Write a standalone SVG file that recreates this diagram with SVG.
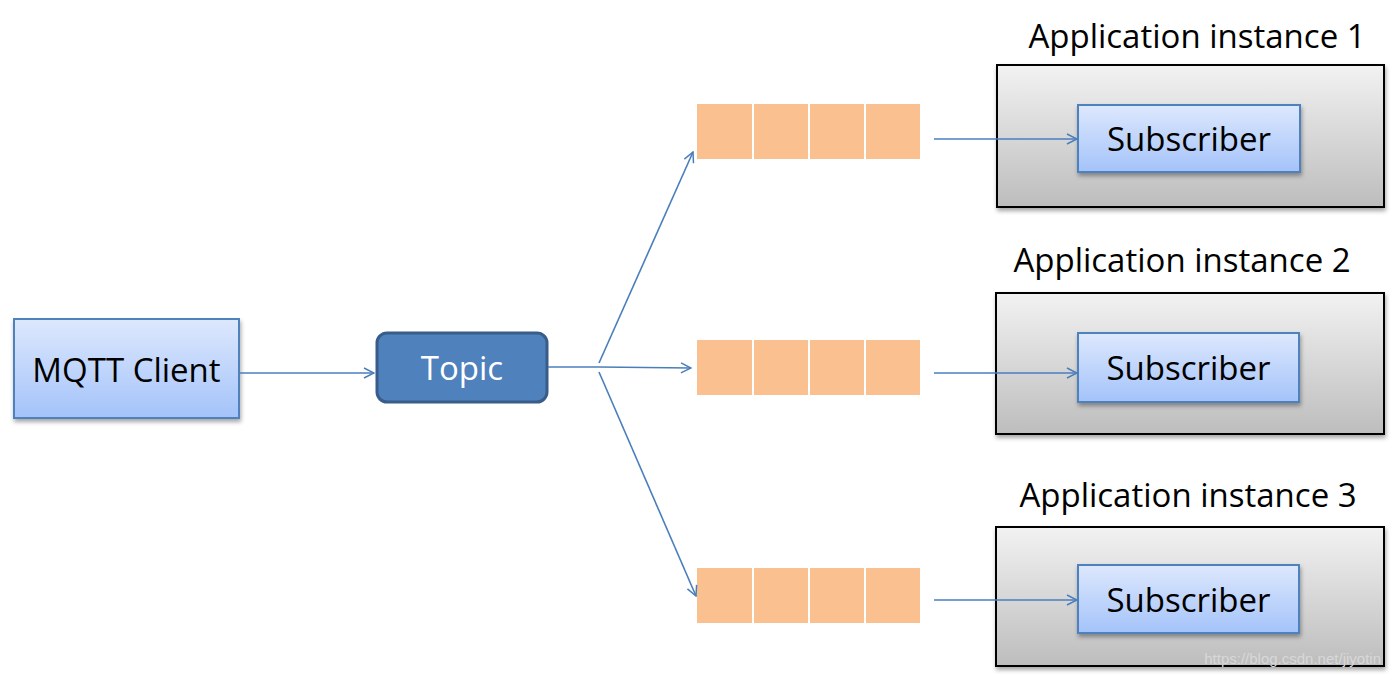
<svg xmlns="http://www.w3.org/2000/svg" width="1392" height="678" viewBox="0 0 1392 678">
<defs>
<linearGradient id="gBlue" x1="0" y1="0" x2="0" y2="1"><stop offset="0" stop-color="#dde8fd"/><stop offset="1" stop-color="#a4c3fa"/></linearGradient>
<linearGradient id="gGray" x1="0" y1="0" x2="0" y2="1"><stop offset="0" stop-color="#f2f2f2"/><stop offset="1" stop-color="#bdbdbd"/></linearGradient>
<filter id="sh" x="-10%" y="-10%" width="125%" height="130%"><feDropShadow dx="1" dy="3" stdDeviation="2" flood-color="#000" flood-opacity="0.35"/></filter>
<marker id="ah" viewBox="0 0 12 12" refX="11" refY="6" markerWidth="12" markerHeight="12" markerUnits="userSpaceOnUse" orient="auto"><path d="M1,1 L11,6 L1,11" fill="none" stroke="#4a7ebb" stroke-width="1.5"/></marker>
<style>
.lbl{font-family:"Open Sans","Liberation Sans",sans-serif;font-size:33px;fill:#000;text-anchor:middle}
.blue{fill:url(#gBlue);stroke:#4f81bd;stroke-width:2;filter:url(#sh)}
.app{fill:url(#gGray);stroke:#000;stroke-width:2;filter:url(#sh)}
.q{fill:#fac090}
.c{stroke:#4a7ebb;stroke-width:1.6;fill:none}
</style>
</defs>
<rect width="1392" height="678" fill="#fff"/>
<g id="mqtt-client"><rect class="blue" x="14" y="319" width="225" height="99"/><text class="lbl" x="126.5" y="382">MQTT Client</text></g>
<g id="topic"><rect x="377" y="333" width="170" height="69" rx="10" fill="#4f81bd" stroke="#385d8a" stroke-width="3"/><text class="lbl" x="462" y="380" style="fill:#fff">Topic</text></g>
<g id="queue1"><rect class="q" x="697" y="104" width="55" height="55"/><rect class="q" x="754" y="104" width="54" height="55"/><rect class="q" x="810" y="104" width="54" height="55"/><rect class="q" x="866" y="104" width="54" height="55"/></g>
<g id="queue2"><rect class="q" x="697" y="340" width="55" height="55"/><rect class="q" x="754" y="340" width="54" height="55"/><rect class="q" x="810" y="340" width="54" height="55"/><rect class="q" x="866" y="340" width="54" height="55"/></g>
<g id="queue3"><rect class="q" x="697" y="568" width="55" height="55"/><rect class="q" x="754" y="568" width="54" height="55"/><rect class="q" x="810" y="568" width="54" height="55"/><rect class="q" x="866" y="568" width="54" height="55"/></g>
<g id="app1"><rect class="app" x="997" y="65" width="387" height="142"/><text class="lbl" x="1197" y="48">Application instance 1</text><rect class="blue" x="1078" y="105" width="222" height="67"/><text class="lbl" x="1189" y="151">Subscriber</text></g>
<g id="app2"><rect class="app" x="996" y="293" width="388" height="141"/><text class="lbl" x="1182" y="272">Application instance 2</text><rect class="blue" x="1078" y="333" width="221" height="69"/><text class="lbl" x="1188.5" y="380">Subscriber</text></g>
<g id="app3"><rect class="app" x="996" y="527" width="388" height="139"/><text class="lbl" x="1188" y="507">Application instance 3</text><rect class="blue" x="1078" y="565" width="221" height="68"/><text class="lbl" x="1188.5" y="612">Subscriber</text></g>
<g id="connectors">
<line class="c" x1="240" y1="373" x2="374" y2="373" marker-end="url(#ah)"/>
<line class="c" x1="548" y1="367" x2="599" y2="367"/>
<line class="c" x1="599" y1="367" x2="691" y2="368" marker-end="url(#ah)"/>
<line class="c" x1="599" y1="363" x2="693" y2="152" marker-end="url(#ah)"/>
<line class="c" x1="599" y1="372" x2="696" y2="596" marker-end="url(#ah)"/>
<line class="c" x1="934" y1="139" x2="1077" y2="139" marker-end="url(#ah)"/>
<line class="c" x1="934" y1="373" x2="1077" y2="373" marker-end="url(#ah)"/>
<line class="c" x1="934" y1="600" x2="1077" y2="600" marker-end="url(#ah)"/>
</g>
<text x="1381" y="664" font-family="Liberation Sans, sans-serif" font-size="15" fill="#d8d8d8" text-anchor="end">https://blog.csdn.net/jiyotin</text>
</svg>
